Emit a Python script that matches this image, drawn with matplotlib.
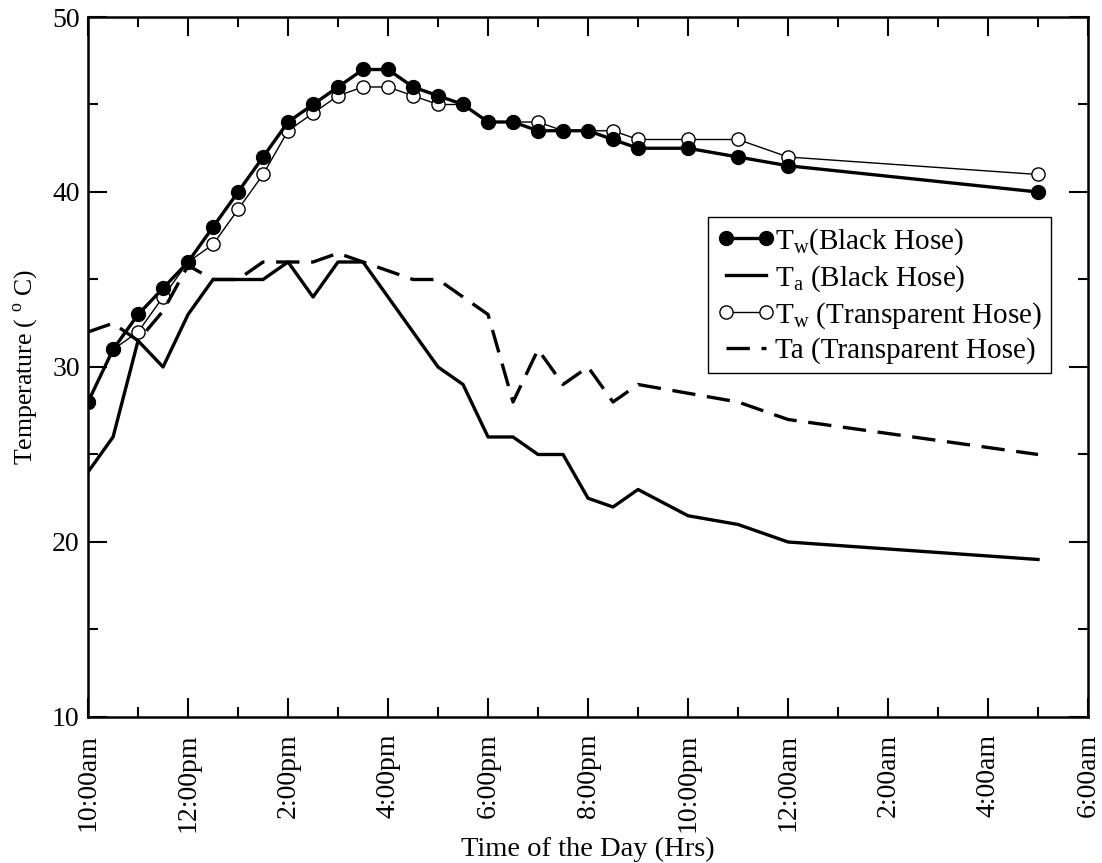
import matplotlib
matplotlib.use("Agg")
import matplotlib.pyplot as plt
from matplotlib.ticker import MultipleLocator

plt.rcParams['font.family'] = ['Liberation Serif', 'DejaVu Serif']
plt.rcParams['mathtext.fontset'] = 'custom'
plt.rcParams['mathtext.rm'] = 'Liberation Serif'

# hours after 10:00am
hours = [0, 0.5, 1, 1.5, 2, 2.5, 3, 3.5, 4, 4.5, 5, 5.5, 6, 6.5, 7, 7.5,
         8, 8.5, 9, 9.5, 10, 10.5, 11, 12, 13, 14, 19]

tw_black = [28, 31, 33, 34.5, 36, 38, 40, 42, 44, 45, 46, 47, 47, 46, 45.5, 45,
            44, 44, 43.5, 43.5, 43.5, 43, 42.5, 42.5, 42, 41.5, 40]
ta_black = [24, 26, 31.5, 30, 33, 35, 35, 35, 36, 34, 36, 36, 34, 32, 30, 29,
            26, 26, 25, 25, 22.5, 22, 23, 21.5, 21, 20, 19]
tw_clear = [28, 31, 32, 34, 36, 37, 39, 41, 43.5, 44.5, 45.5, 46, 46, 45.5, 45, 45,
            44, 44, 44, 43.5, 43.5, 43.5, 43, 43, 43, 42, 41]
ta_clear = [32, 32.5, 31.5, 33.2, 35.8, 35, 35, 36, 36, 36, 36.5, 36, 35.5, 35, 35, 34,
            33, 28, 31, 29, 30, 28, 29, 28.5, 28, 27, 25]

tick_hours = [0, 2, 4, 6, 8, 10, 12, 14, 16, 18, 20]
tick_labels = ['10:00am', '12:00pm', '2:00pm', '4:00pm', '6:00pm', '8:00pm',
               '10:00pm', '12:00am', '2:00am', '4:00am', '6:00am']

fig = plt.figure(figsize=(11.02, 8.63), dpi=100)
ax = fig.add_axes([0.0799, 0.1692, 0.9074, 0.8111])

ax.plot(hours, tw_black, color='black', lw=2.4, marker='o', ms=10,
        mfc='black', mec='black', label=r'T$_\mathregular{w}$(Black Hose)', zorder=4)
ax.plot(hours, ta_black, color='black', lw=2.4,
        label=r'T$_\mathregular{a}$ (Black Hose)', zorder=3)
ax.plot(hours, tw_clear, color='black', lw=1.0, marker='o', ms=9.5,
        mfc='white', mec='black', mew=1.0,
        label=r'T$_\mathregular{w}$ (Transparent Hose)', zorder=3)
ax.plot(hours, ta_clear, color='black', lw=2.4, dashes=(7, 3.5),
        label='Ta (Transparent Hose)', zorder=3)

ax.set_xlim(0, 20)
ax.set_ylim(10, 50)
ax.set_xticks(tick_hours)
ax.set_xticklabels(tick_labels, rotation=90)
ax.xaxis.set_minor_locator(MultipleLocator(1))
ax.yaxis.set_major_locator(MultipleLocator(10))
ax.yaxis.set_minor_locator(MultipleLocator(5))

ax.tick_params(which='both', direction='in', top=True, right=True,
               labelsize=20, width=1.5)
ax.tick_params(which='major', length=14)
ax.tick_params(which='minor', length=7)
ax.tick_params(axis='x', pad=12)
ax.tick_params(axis='y', pad=6)
for s in ax.spines.values():
    s.set_linewidth(1.8)

ax.set_xlabel('Time of the Day (Hrs)', fontsize=20.5, labelpad=3)
ax.set_ylabel(r'Temperature ( $^\mathregular{o}$ C)', fontsize=18.5, labelpad=9)

leg = ax.legend(loc='upper left', bbox_to_anchor=(0.62, 0.714), borderaxespad=0,
                fontsize=21, numpoints=2, handlelength=2.0, handletextpad=0.0,
                labelspacing=0.22, borderpad=0.3, fancybox=False,
                edgecolor='black', framealpha=1)
leg.get_frame().set_linewidth(1.0)

fig.savefig('out.png', dpi=100)
